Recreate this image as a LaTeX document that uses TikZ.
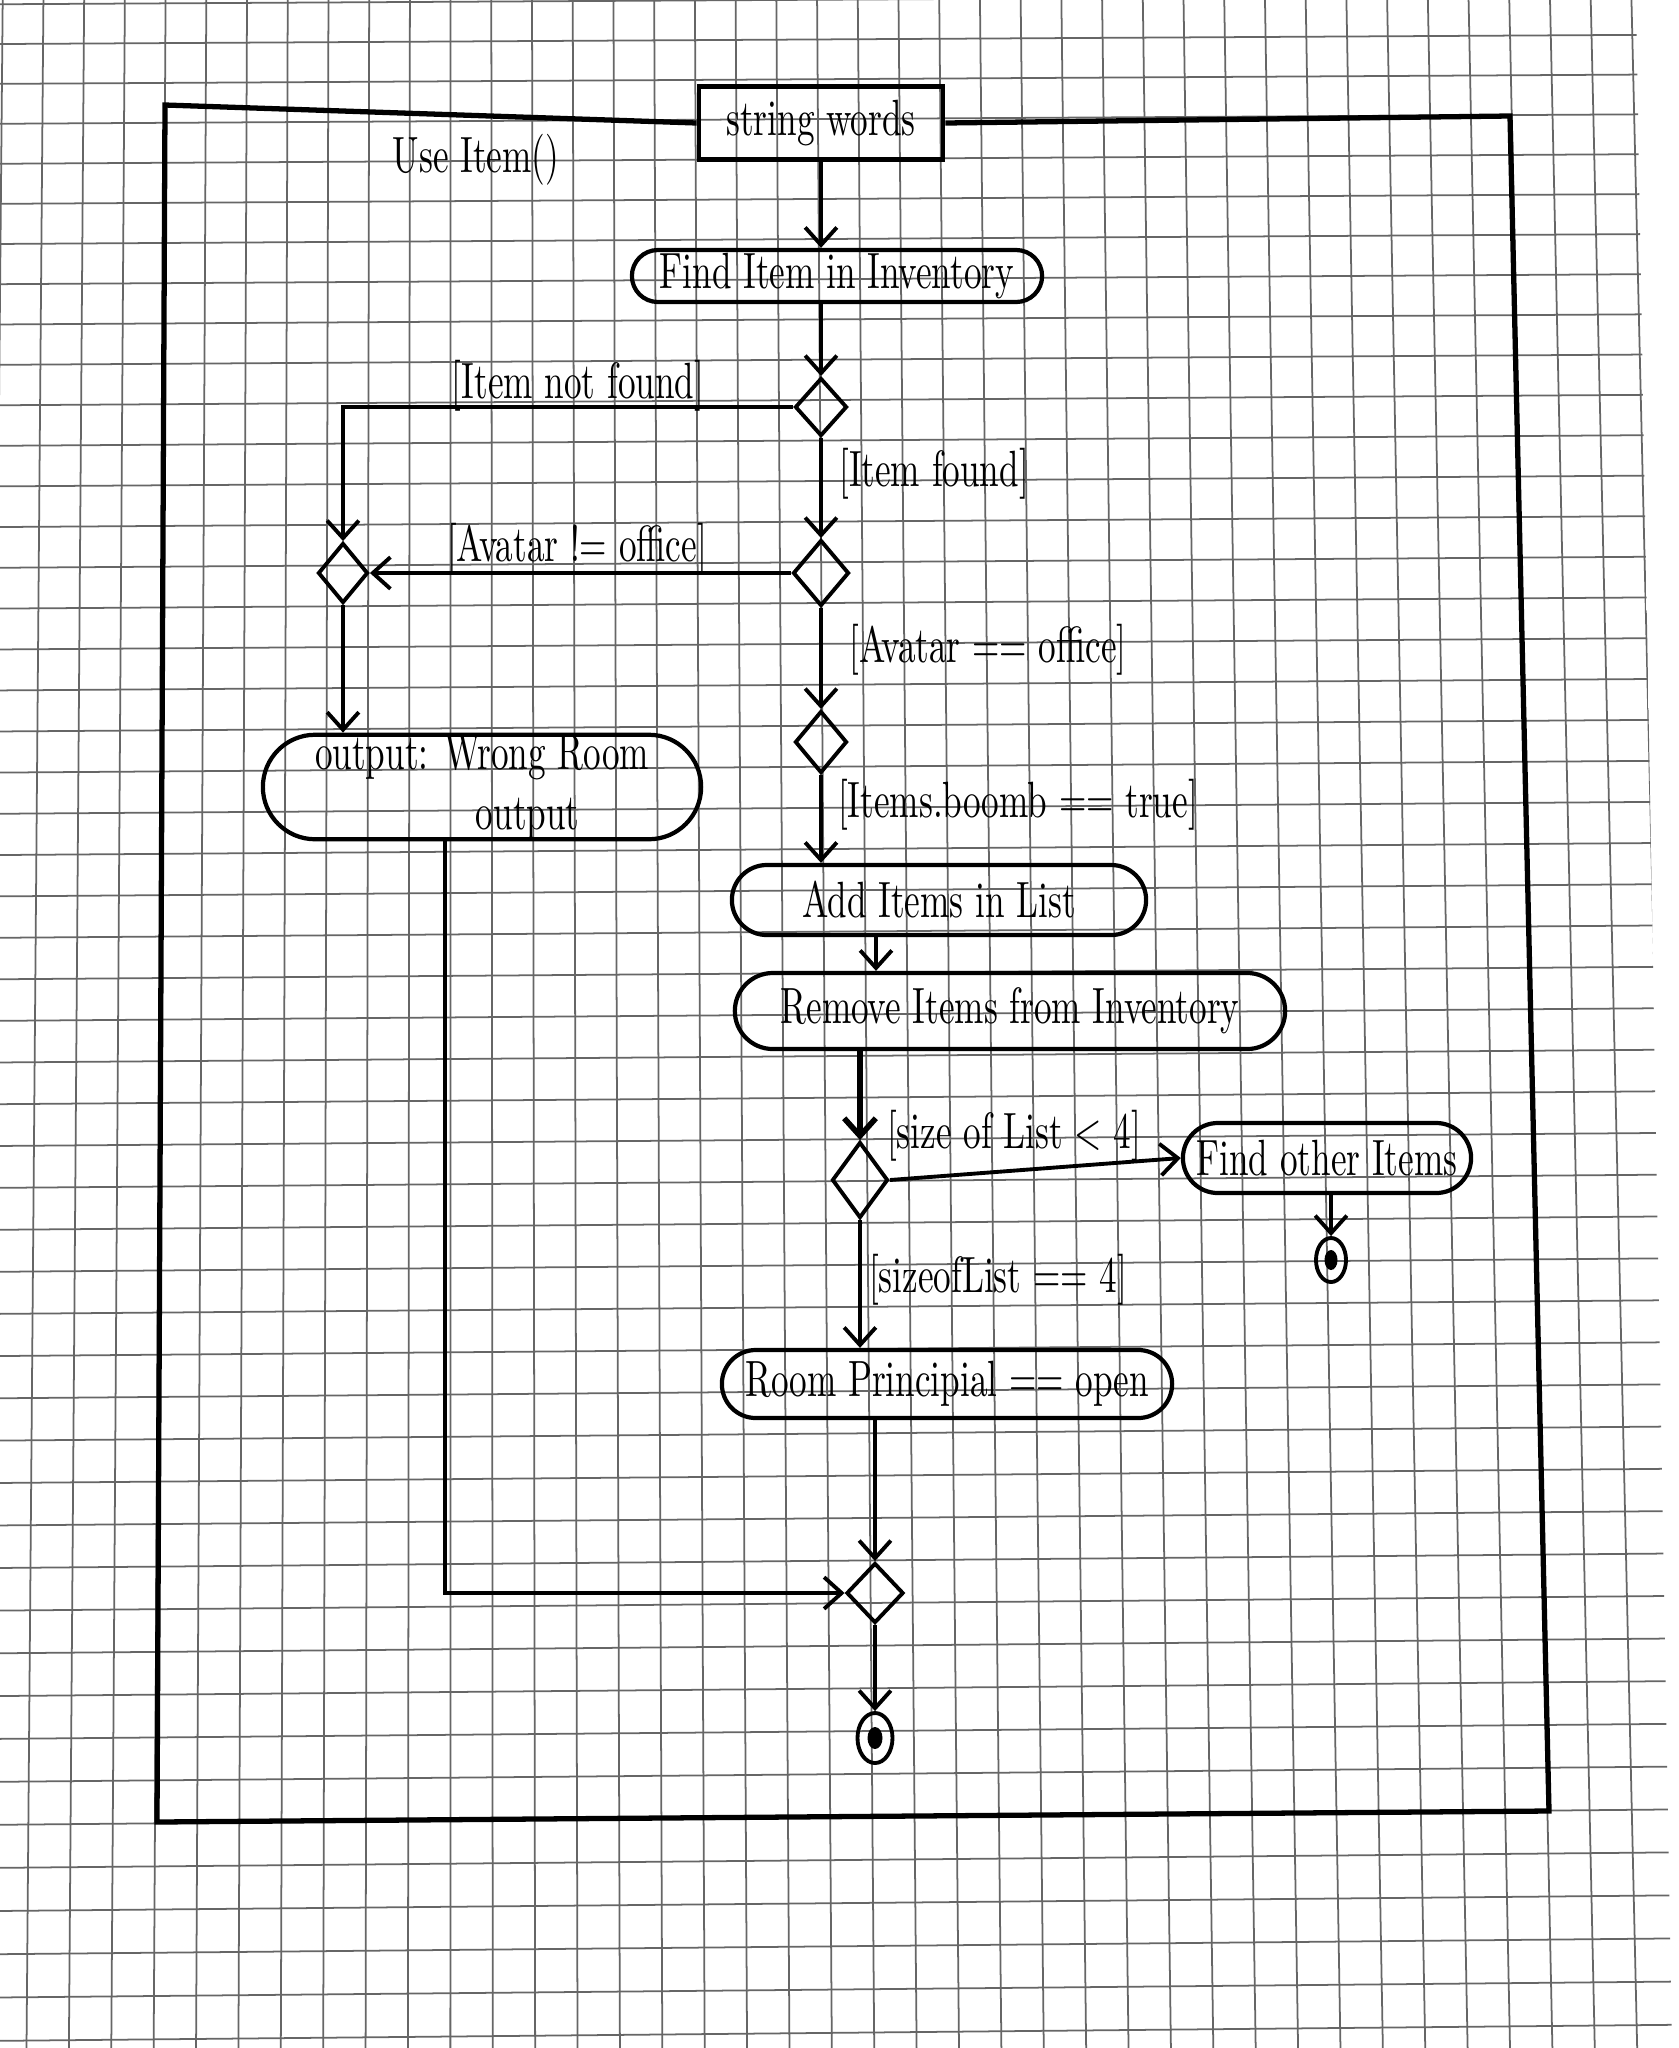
\documentclass[tikz,border=0pt]{standalone}
\usepackage{fontspec}
\usepackage{graphicx}
\usetikzlibrary{shapes.geometric,shapes.misc,arrows.meta}
\newcommand{\hw}[1]{\scalebox{1}[1.45]{#1}}
\begin{document}
\begin{tikzpicture}[x=0.01cm,y=-0.01cm,
  ln/.style={line width=1.1pt},
  arr/.style={line width=1.1pt,-{Straight Barb[length=5pt,width=9pt]}},
  act/.style={rounded rectangle, draw, line width=1.2pt, inner sep=0pt, font=\fontsize{10}{12}\selectfont},
  dec/.style={diamond, draw, line width=1.1pt, inner sep=0pt},
  lbl/.style={inner sep=0pt, font=\fontsize{10}{12}\selectfont},
  fin/.style={ellipse, draw, line width=1.1pt, inner sep=0pt},
  gridln/.style={black!60, line width=0.5pt},
  frame/.style={line width=1.5pt}
]
\useasboundingbox (0,0) rectangle (1679,2048);
\fill[white] (0,0) rectangle (1679,2048);
% graph paper
\begin{scope}
\clip (0,0) -- (1636,0) -- (1672,2048) -- (0,2048) -- cycle;
\foreach \k in {-4,...,36}{
  \pgfmathsetmacro{\xa}{165.58+40.7186*\k}
  \pgfmathsetmacro{\xb}{153.67+42.3856*\k}
  \draw[gridln] (\xa,0) -- (\xb,2048);
}
\foreach \j in {-4,...,46}{
  \pgfmathsetmacro{\ya}{163.75+40.025*\j+0.0375*(\j)*(\j)}
  \pgfmathsetmacro{\yb}{153.96+39.885*\j+0.0375*(\j)*(\j)}
  \draw[gridln] (0,\ya) -- (1679,\yb);
}
\end{scope}

% nodes
\node[draw, rectangle, line width=1.3pt, minimum width=2.44cm, minimum height=0.73cm, inner sep=0pt, font=\fontsize{10}{12}\selectfont] (sw) at (821,123) {\hw{string words}};
\node[lbl] (use) at (476,160) {\hw{Use Item()}};
\node[act, minimum width=4.10cm, minimum height=0.52cm] (find) at (837,276) {\hw{Find Item in Inventory}};
\node[dec, minimum width=0.52cm, minimum height=0.58cm] (d1) at (821,407) {};
\node[dec, minimum width=0.56cm, minimum height=0.66cm] (d2) at (821,573) {};
\node[dec, minimum width=0.50cm, minimum height=0.60cm] (m1) at (343,573) {};
\node[dec, minimum width=0.52cm, minimum height=0.62cm] (d3) at (821,742) {};
\node[act, minimum width=4.14cm, minimum height=0.70cm] (add) at (939,900) {\hw{Add Items in List}};
\node[act, minimum width=5.50cm, minimum height=0.76cm] (rem) at (1010,1011) {\hw{Remove Items from Inventory}};
\node[dec, minimum width=0.56cm, minimum height=0.76cm] (d4) at (860,1180) {};
\node[act, minimum width=2.88cm, minimum height=0.70cm] (fo) at (1327,1158) {\hw{Find other Items}};
\node[fin, minimum width=0.30cm, minimum height=0.44cm] (f1) at (1331,1260) {};
\node[ellipse, fill, minimum width=0.13cm, minimum height=0.20cm, inner sep=0pt] (f1d) at (f1) {};
\node[act, minimum width=4.50cm, minimum height=0.68cm] (room) at (947,1384) {\hw{Room Principial == open}};
\node[dec, minimum width=0.57cm, minimum height=0.60cm] (m2) at (875,1593) {};
\node[fin, minimum width=0.35cm, minimum height=0.50cm] (f2) at (875,1738) {};
\node[ellipse, fill, minimum width=0.15cm, minimum height=0.22cm, inner sep=0pt] (f2d) at (f2) {};
\node[act, minimum width=4.24cm, minimum height=0.96cm, align=center] (wrong) at (482,787) {\hw{output: Wrong Room}\\[5pt]\hspace*{26pt}\hw{output}};

% guard labels
\node[lbl] (lnf) at (578,386) {\hw{[Item not found]}};
\node[lbl] (lf) at (934,474) {\hw{[Item found]}};
\node[lbl] (lan) at (577,549) {\hw{[Avatar != office]}};
\node[lbl] (lae) at (988,650) {\hw{[Avatar == office]}};
\node[lbl] (lb) at (1018,805) {\hw{[Items.boomb == true]}};
\node[lbl] (llt) at (1014,1136) {\hw{[size of List < 4]}};
\node[lbl] (leq) at (998,1280) {\hw{[sizeofList == 4]}};

% activity frame
\draw[frame] (sw.west) -- (165,105) -- (157,1822) -- (1549,1811) -- (1510,116) -- (sw.east);

% connectors
\coordinate (ax) at (876,0);
\coordinate (wx) at (445,0);
\draw[arr] (sw.south) -- (find.north -| sw.south);
\draw[arr] (d1.north |- find.south) -- (d1.north);
\draw[arr] (d1.west) -| (m1.north);
\draw[arr] (d1.south) -- (d2.north);
\draw[arr] (d2.west) -- (m1.east);
\draw[arr] (d2.south) -- (d3.north);
\draw[arr] (d3.south) -- (d3.south |- add.north);
\draw[arr] (add.south -| ax) -- (rem.north -| ax);
\draw[arr, line width=1.6pt] (d4.north |- rem.south) -- (d4.north);
\draw[arr] (d4.east) -- (fo.west);
\draw[arr] (f1.north |- fo.south) -- (f1.north);
\draw[arr] (d4.south) -- (d4.south |- room.north);
\draw[arr] (m2.north |- room.south) -- (m2.north);
\draw[arr] (m2.south) -- (f2.north);
\draw[arr] (m1.south) -- (m1.south |- wrong.north);
\draw[arr] (wrong.south -| wx) |- (m2.west);
\end{tikzpicture}
\end{document}
